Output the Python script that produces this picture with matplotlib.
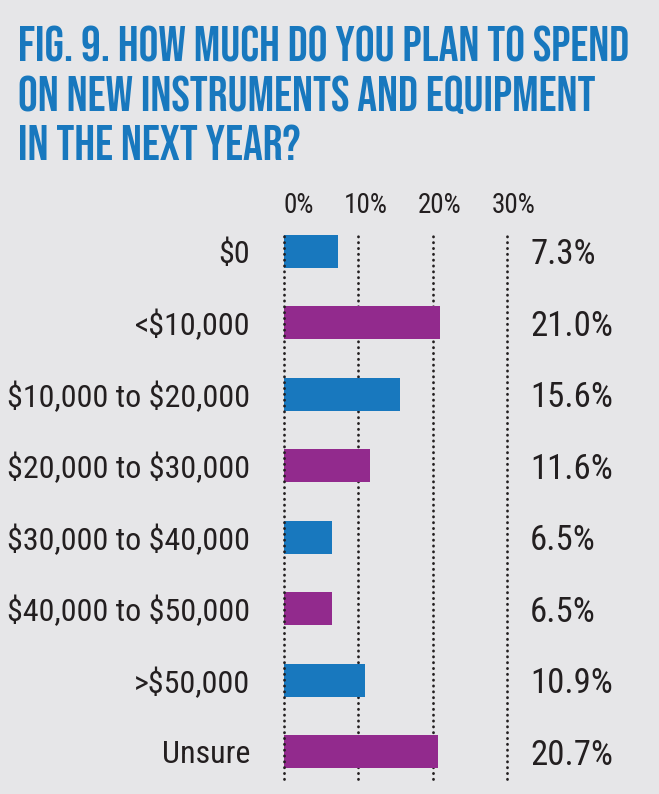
import matplotlib
matplotlib.use("Agg")
import matplotlib.pyplot as plt
from matplotlib import font_manager
from matplotlib.transforms import offset_copy

plt.rcParams["text.parse_math"] = False

# data
categories = ["$0", "<$10,000", "$10,000 to $20,000", "$20,000 to $30,000",
              "$30,000 to $40,000", "$40,000 to $50,000", ">$50,000", "Unsure"]
values = [7.3, 21.0, 15.6, 11.6, 6.5, 6.5, 10.9, 20.7]
value_labels = ["7.3%", "21.0%", "15.6%", "11.6%", "6.5%", "6.5%", "10.9%", "20.7%"]
ticks = [0, 10, 20, 30]
tick_labels = ["0%", "10%", "20%", "30%"]
title_lines = ["FIG. 9. HOW MUCH DO YOU PLAN TO SPEND",
               "ON NEW INSTRUMENTS AND EQUIPMENT",
               "IN THE NEXT YEAR?"]

blue = "#1878be"
purple = "#922a8d"
bg = "#e6e6e8"
ink = "#231f20"

names = {f.name for f in font_manager.fontManager.ttflist}


def pick(*cands):
    for c in cands:
        if c in names:
            return c
    return "DejaVu Sans"


head_font = pick("Bebas Neue", "Oswald", "League Gothic", "Antonio", "Fjalla One")
body_font = pick("Roboto Condensed", "Archivo Narrow", "PT Sans Narrow",
                 "Barlow Condensed", "Liberation Sans Narrow")

fig = plt.figure(figsize=(6.59, 7.94), dpi=100, facecolor=bg)
W, H = 659, 794
ax = fig.add_axes([284 / W, 15 / H, (507 - 284) / W, 547 / H])
ax.set_facecolor(bg)

ypos = list(range(len(categories)))
colors = [blue if i % 2 == 0 else purple for i in ypos]

# dotted guides, the 0% one sits over the bars
for t in ticks:
    ax.axvline(t, color=ink, lw=2.0, linestyle=(0, (0.1, 2.0)),
               dash_capstyle="round", zorder=3 if t == 0 else 1, clip_on=False)
ax.barh(ypos, values, height=0.46, color=colors, zorder=2)

ax.set_xlim(0, 30)
ax.set_ylim(7.38, -0.27)
ax.set_xticks([])
ax.set_yticks(ypos)
ax.set_yticklabels(categories, fontsize=23, color=ink, family=body_font)
ax.tick_params(axis="y", length=0, pad=24.5)
for s in ax.spines.values():
    s.set_visible(False)

# top percentage labels
for t, lab in zip(ticks, tick_labels):
    dx = 15 if t == 0 else 7
    tr = offset_copy(ax.get_xaxis_transform(), fig=fig, x=dx * 0.72, y=19 * 0.72, units="points")
    ax.text(t, 1.0, lab, transform=tr, ha="center", va="baseline",
            fontsize=19.5, color=ink, family=body_font)

# value labels
for y, lab in zip(ypos, value_labels):
    tr = offset_copy(ax.get_yaxis_transform(), fig=fig, x=23 * 0.72, y=0, units="points")
    ax.text(1.0, y, lab, transform=tr, ha="left", va="center_baseline",
            fontsize=25, color=ink, family=body_font)

for i, line in enumerate(title_lines):
    fig.text(18 / W, 1 - (62 + 49 * i) / H, line, ha="left", va="baseline",
             fontsize=35.6, color=blue, family=head_font)

fig.savefig("out.png", dpi=100, facecolor=bg)
